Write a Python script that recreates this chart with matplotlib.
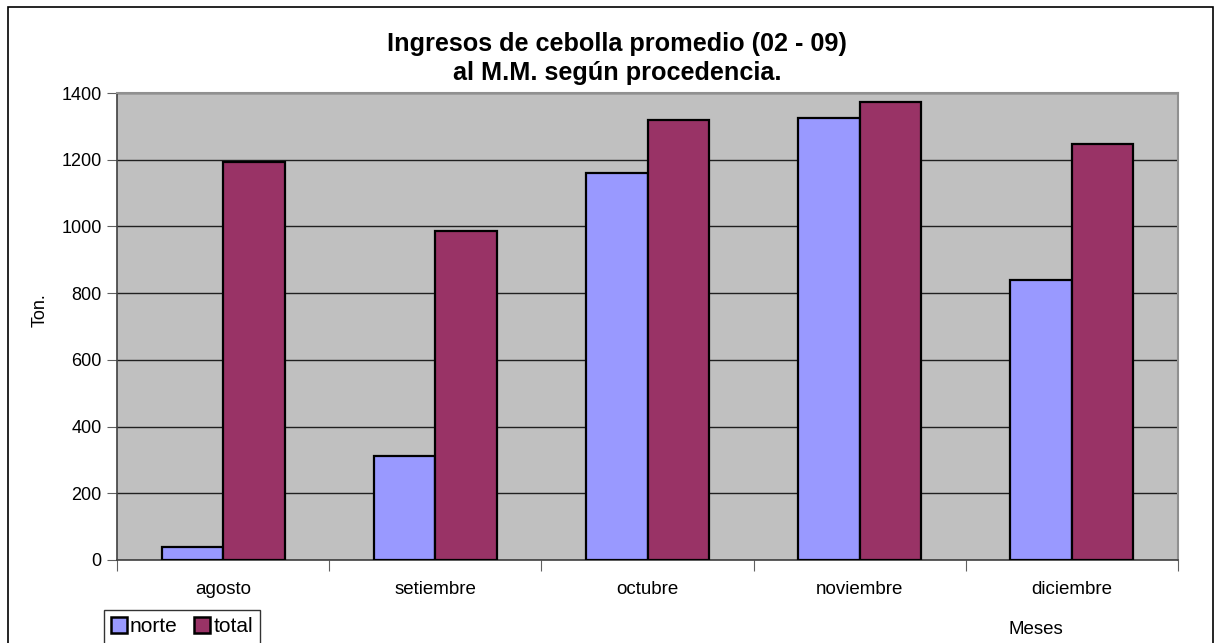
import matplotlib.pyplot as plt
import numpy as np
from matplotlib.patches import Rectangle, Patch

plt.rcParams['font.family'] = ['Liberation Sans', 'DejaVu Sans']

meses = ["agosto", "setiembre", "octubre", "noviembre", "diciembre"]
norte = [40, 313, 1160, 1326, 840]
total = [1193, 987, 1320, 1373, 1248]
yticks = [0, 200, 400, 600, 800, 1000, 1200, 1400]

W, H = 1221, 643
fig = plt.figure(figsize=(W / 100, H / 100), dpi=100)
fig.patch.set_facecolor("white")

# plot area in pixels: left 117, right 1178, top 93, bottom 560
ax = fig.add_axes([117 / W, 1 - 560 / H, (1178 - 117) / W, (560 - 93) / H])
ax.set_facecolor("#C0C0C0")

x = np.arange(len(meses))
bw = 0.29
ax.bar(x - bw / 2, norte, bw, color="#9999FF", edgecolor="black", linewidth=1.6, zorder=3)
ax.bar(x + bw / 2, total, bw, color="#993366", edgecolor="black", linewidth=1.6, zorder=3)

ax.set_xlim(-0.5, len(meses) - 0.5)
ax.set_ylim(0, 1400)
ax.set_yticks(yticks)
ax.yaxis.grid(True, color="#202020", linewidth=1.0, zorder=1)
ax.set_axisbelow(True)

ax.set_xticks(np.arange(len(meses) + 1) - 0.5)
ax.set_xticklabels([])
ax.set_xticks(x, minor=True)
ax.set_xticklabels(meses, minor=True, fontsize=13.5)
ax.tick_params(axis="x", which="minor", length=0, pad=15)
ax.tick_params(axis="x", which="major", length=8, color="#606060", direction="out")
ax.tick_params(axis="y", length=7, color="#606060", labelsize=13, pad=4)

for s in ["top", "right"]:
    ax.spines[s].set_color("#909090")
    ax.spines[s].set_linewidth(1.5)
for s in ["left", "bottom"]:
    ax.spines[s].set_color("#404040")
    ax.spines[s].set_linewidth(1.2)

fig.text(40 / W, 1 - 310 / H, "Ton.", rotation=90, fontsize=13, ha="center", va="center")
fig.text(1036 / W, 1 - 630 / H, "Meses", fontsize=13.5, ha="center", va="center")

fig.text(617 / W, 1 - 44 / H, "Ingresos de cebolla promedio (02 - 09)", fontsize=18.2,
         fontweight="bold", ha="center", va="center")
fig.text(617 / W, 1 - 73 / H, "al M.M. según procedencia.", fontsize=18.2,
         fontweight="bold", ha="center", va="center")

# outer frame
fig.patches.append(Rectangle((8 / W, -0.05), (1213 - 8) / W, 1.05 - 7 / H,
                             transform=fig.transFigure, fill=False,
                             edgecolor="black", linewidth=1.2))

handles = [Patch(facecolor="#9999FF", edgecolor="black", linewidth=1.8, label="norte"),
           Patch(facecolor="#993366", edgecolor="black", linewidth=1.8, label="total")]
leg = fig.legend(handles=handles, loc="upper left", bbox_to_anchor=(104 / W, 1 - 610 / H),
                 ncol=2, fontsize=15, frameon=True, fancybox=False, handlelength=0.75,
                 handleheight=0.75, handletextpad=0.15, columnspacing=0.8,
                 borderpad=0.35, borderaxespad=0)
leg.get_frame().set_edgecolor("black")
leg.get_frame().set_linewidth(1.0)

fig.savefig("out.png", dpi=100)
